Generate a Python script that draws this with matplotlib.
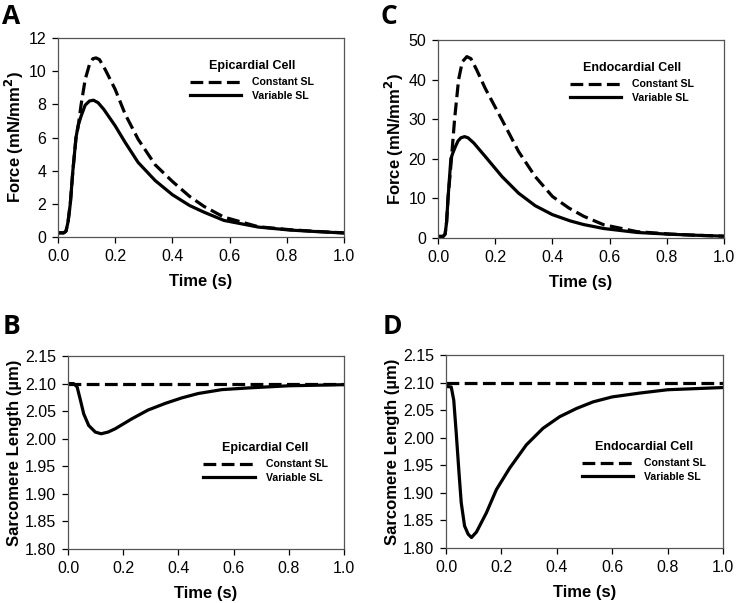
import matplotlib
matplotlib.use("Agg")
import matplotlib.pyplot as plt
from matplotlib.lines import Line2D

plt.rcParams['font.family'] = ['Liberation Sans', 'DejaVu Sans']

##
## values
##

# A : epicardial force
tA_var = [0.0, 0.02, 0.028, 0.035, 0.043, 0.052, 0.063, 0.07, 0.081, 0.095, 0.11, 0.124, 0.14, 0.16,
          0.2, 0.235, 0.28, 0.34, 0.4, 0.46, 0.51, 0.58, 0.7, 0.81, 0.9, 1.0]
fA_var = [0.25, 0.25, 0.35, 0.9, 2.0, 4.0, 6.0, 6.7, 7.3, 7.95, 8.2, 8.25, 8.1, 7.7,
          6.7, 5.7, 4.5, 3.4, 2.55, 1.9, 1.5, 1.0, 0.6, 0.42, 0.33, 0.24]
tA_con = [0.0, 0.02, 0.028, 0.035, 0.043, 0.052, 0.063, 0.07, 0.081, 0.095, 0.11, 0.122, 0.133, 0.145,
          0.165, 0.2, 0.235, 0.28, 0.34, 0.4, 0.46, 0.51, 0.58, 0.7, 0.81, 0.9, 1.0]
fA_con = [0.25, 0.25, 0.35, 0.9, 2.0, 4.0, 6.0, 6.6, 8.0, 9.5, 10.4, 10.75, 10.8, 10.7,
          10.1, 8.9, 7.4, 5.9, 4.35, 3.35, 2.45, 1.85, 1.2, 0.62, 0.44, 0.34, 0.25]

# C : endocardial force
tC_var = [0.0, 0.018, 0.025, 0.03, 0.035, 0.045, 0.052, 0.061, 0.07, 0.08, 0.093, 0.105, 0.125, 0.165,
          0.224, 0.282, 0.34, 0.4, 0.463, 0.509, 0.579, 0.696, 0.81, 0.9, 1.0]
fC_var = [0.4, 0.4, 1.0, 4.0, 10.0, 20.0, 21.5, 23.1, 24.5, 25.3, 25.6, 25.3, 24.0, 20.6,
          15.5, 11.3, 8.15, 5.9, 4.3, 3.4, 2.4, 1.4, 0.95, 0.7, 0.45]
tC_con = [0.0, 0.018, 0.025, 0.03, 0.035, 0.047, 0.058, 0.072, 0.085, 0.101, 0.115, 0.135, 0.165,
          0.224, 0.282, 0.34, 0.4, 0.457, 0.509, 0.579, 0.696, 0.81, 0.9, 1.0]
fC_con = [0.4, 0.4, 1.0, 4.0, 10.0, 20.0, 30.0, 40.0, 44.5, 45.8, 45.3, 42.5, 37.8,
          29.8, 21.8, 15.5, 10.5, 7.6, 5.5, 3.35, 1.6, 1.0, 0.7, 0.45]

# B : epicardial sarcomere length
tB_var = [0.0, 0.02, 0.033, 0.045, 0.057, 0.075, 0.099, 0.12, 0.145, 0.171, 0.231, 0.29, 0.352,
          0.412, 0.472, 0.557, 0.65, 0.8, 1.0]
sB_var = [2.10, 2.10, 2.094, 2.07, 2.045, 2.024, 2.012, 2.009, 2.012, 2.018, 2.036, 2.052, 2.064,
          2.074, 2.082, 2.089, 2.092, 2.096, 2.098]
tB_con = [0.0, 1.0]
sB_con = [2.10, 2.10]

# D : endocardial sarcomere length
tD_var = [0.0, 0.019, 0.028, 0.037, 0.047, 0.055, 0.067, 0.08, 0.092, 0.11, 0.146, 0.182, 0.23,
          0.29, 0.35, 0.41, 0.471, 0.531, 0.6, 0.7, 0.8, 0.9, 1.0]
sD_var = [2.093, 2.092, 2.068, 2.008, 1.936, 1.882, 1.84, 1.825, 1.819, 1.829, 1.864, 1.906, 1.945,
          1.987, 2.017, 2.038, 2.053, 2.065, 2.074, 2.081, 2.087, 2.089, 2.091]
tD_con = [0.0, 1.0]
sD_con = [2.10, 2.10]

x_ticks = [0.0, 0.2, 0.4, 0.6, 0.8, 1.0]
force_ticks_A = [0, 2, 4, 6, 8, 10, 12]
force_ticks_C = [0, 10, 20, 30, 40, 50]
sl_ticks = [1.80, 1.85, 1.90, 1.95, 2.00, 2.05, 2.10, 2.15]
legend_labels = ["Constant SL", "Variable SL"]

W, H = 736., 603.
LW = 2.3
DASH = (4.0, 1.7)


def px_axes(fig, l, r, t, b):
  return fig.add_axes([l/W, 1 - b/H, (r - l)/W, (b - t)/H])


def panel(ax, tc, yc, tv, yv, yticks, yfmt, ylabel, title, legxy):
  ax.plot(tc, yc, color='black', lw=LW, dashes=DASH)
  ax.plot(tv, yv, color='black', lw=LW)
  ax.set_xlim(0., 1.)
  ax.set_ylim(yticks[0], yticks[-1])
  ax.set_xticks(x_ticks)
  ax.set_xticklabels(["%.1f" % x for x in x_ticks])
  ax.set_yticks(yticks)
  ax.set_yticklabels([yfmt % y for y in yticks])
  ax.tick_params(direction='out', length=4.5, width=0.9, labelsize=11.5, pad=4, colors='black')
  for s in ax.spines.values():
    s.set_color('#555555')
    s.set_linewidth(0.9)
  ax.set_xlabel('Time (s)', fontsize=12, fontweight='bold', labelpad=7)
  ax.set_ylabel(ylabel, fontsize=12, fontweight='bold', labelpad=2)
  h = [Line2D([], [], color='black', lw=LW, dashes=DASH), Line2D([], [], color='black', lw=LW)]
  leg = ax.legend(h, legend_labels, title=title, frameon=False, loc='upper left',
                  bbox_to_anchor=legxy, borderaxespad=0, borderpad=0,
                  handlelength=4.9, handletextpad=1.0, labelspacing=0.3,
                  prop={'weight': 'bold', 'size': 7.6})
  leg.get_title().set_fontweight('bold')
  leg.get_title().set_fontsize(9)
  leg._legend_box.sep = 4


fig = plt.figure(figsize=(W/100., H/100.), dpi=100)

axA = px_axes(fig, 58, 344, 38, 237)
panel(axA, tA_con, fA_con, tA_var, fA_var, force_ticks_A, "%d",
      'Force (mN/mm$^\\mathbf{2}$)', 'Epicardial Cell', (0.46, 0.89))

axC = px_axes(fig, 438, 724, 40, 238)
panel(axC, tC_con, fC_con, tC_var, fC_var, force_ticks_C, "%d",
      'Force (mN/mm$^\\mathbf{2}$)', 'Endocardial Cell', (0.46, 0.89))

axB = px_axes(fig, 68, 344, 356, 549)
panel(axB, tB_con, sB_con, tB_var, sB_var, sl_ticks, "%.2f",
      'Sarcomere Length (\u00b5m)', 'Epicardial Cell', (0.49, 0.555))

axD = px_axes(fig, 446, 723, 355, 548)
panel(axD, tD_con, sD_con, tD_var, sD_var, sl_ticks, "%.2f",
      'Sarcomere Length (\u00b5m)', 'Endocardial Cell', (0.49, 0.555))

for lab, x, y in [("A", 2, 3), ("C", 381, 3), ("B", 3, 313), ("D", 383, 313)]:
  fig.text(x/W, 1 - y/H, lab, fontsize=19, fontweight='bold', va='top', ha='left',
           family=['Open Sans', 'DejaVu Sans'])

fig.savefig('out.png', dpi=100)
